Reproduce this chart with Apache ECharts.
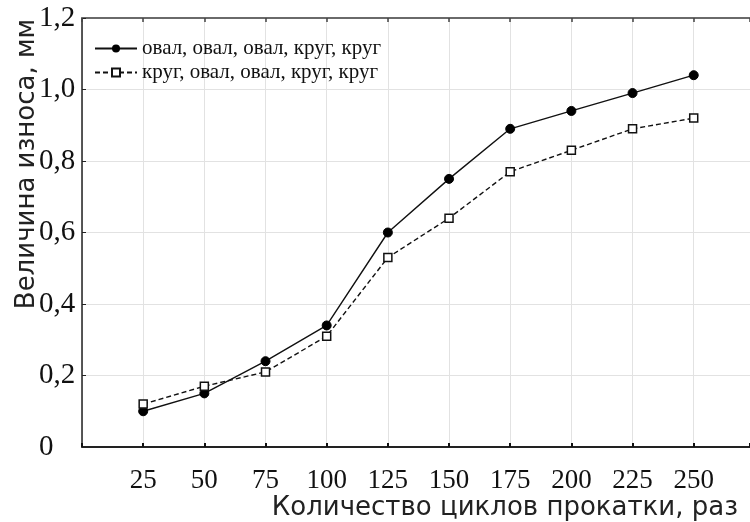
<meta charset="UTF-8">
<script src="https://cdn.jsdelivr.net/npm/echarts@6/dist/echarts.min.js"></script>
<style>body { margin: 0; }</style>
<div id="main" style="width: 750px; height: 522px;"></div>
<script>
    // циклы прокатки
    var cycles = [25, 50, 75, 100, 125, 150, 175, 200, 225, 250];
    var wearOval = [0.10, 0.15, 0.24, 0.34, 0.60, 0.75, 0.89, 0.94, 0.99, 1.04];
    var wearRound = [0.12, 0.17, 0.21, 0.31, 0.53, 0.64, 0.77, 0.83, 0.89, 0.92];
    var seriesNames = ['овал, овал, овал, круг, круг', 'круг, овал, овал, круг, круг'];
    var yTicks = [0, 0.2, 0.4, 0.6, 0.8, 1.0, 1.2];

    function pairs(vals) {
        var out = [];
        for (var i = 0; i < cycles.length; i++) {
            out.push([cycles[i], vals[i]]);
        }
        return out;
    }

    var mychart = echarts.init(document.getElementById('main'));
    var serif = '"Liberation Serif", "DejaVu Serif", serif';
    var sans = '"DejaVu Sans", "Open Sans", sans-serif';

    option = {
        animation: false,
        backgroundColor: '#fff',
        grid: {
            left: 82,
            right: 0,
            top: 18,
            bottom: 75,
            outerBoundsMode: 'none',
            containLabel: false
        },
        legend: {
            left: 89,
            top: 33,
            orient: 'vertical',
            itemWidth: 42,
            itemHeight: 10,
            itemGap: 3,
            textStyle: {
                fontFamily: serif,
                fontSize: 21,
                color: '#111'
            },
            data: seriesNames
        },
        xAxis: [
            {
                type: 'value',
                min: 0,
                max: 273,
                interval: 25,
                axisLine: {lineStyle: {color: '#222', width: 2}},
                axisTick: {inside: true, length: 4, lineStyle: {color: '#111', width: 2}},
                axisLabel: {
                    margin: 20,
                    fontFamily: serif,
                    fontSize: 27,
                    color: '#111',
                    formatter: function (v) {
                        return (v > 0 && v <= 250 && v % 25 === 0) ? String(v) : '';
                    }
                },
                splitLine: {lineStyle: {color: '#e2e2e2', width: 1}}
            },
            {
                type: 'value',
                position: 'top',
                min: 0,
                max: 273,
                interval: 25,
                axisLine: {show: true, lineStyle: {color: '#6a6a6a', width: 2}},
                axisTick: {show: true, inside: true, length: 4, lineStyle: {color: '#444', width: 1.5}},
                axisLabel: {show: false},
                splitLine: {show: false}
            }
        ],
        yAxis: {
            type: 'value',
            min: 0,
            max: 1.2,
            interval: 0.2,
            axisLine: {show: true, lineStyle: {color: '#222', width: 1.5}},
            axisTick: {show: true, inside: true, length: 4, lineStyle: {color: '#222'}},
            axisLabel: {
                align: 'left',
                margin: 43,
                fontFamily: serif,
                fontSize: 29,
                color: '#111',
                formatter: function (v) {
                    var t = yTicks.filter(function (y) { return Math.abs(y - v) < 1e-6; });
                    if (!t.length) return '';
                    return v === 0 ? '0' : v.toFixed(1).replace('.', ',');
                }
            },
            splitLine: {lineStyle: {color: '#e2e2e2', width: 1}}
        },
        graphic: [
            {
                type: 'text',
                x: 27,
                y: 164,
                rotation: Math.PI / 2,
                style: {
                    text: 'Величина износа, мм',
                    fontFamily: sans,
                    fontSize: 26,
                    fill: '#222',
                    textAlign: 'center',
                    textVerticalAlign: 'middle'
                }
            },
            {
                type: 'text',
                x: 738,
                y: 508,
                style: {
                    text: 'Количество циклов прокатки, раз',
                    fontFamily: sans,
                    fontSize: 26,
                    fill: '#222',
                    textAlign: 'right',
                    textVerticalAlign: 'middle'
                }
            }
        ],
        series: [
            {
                name: seriesNames[0],
                type: 'line',
                data: pairs(wearOval),
                symbol: 'circle',
                symbolSize: 9,
                lineStyle: {color: '#111', width: 1.4, type: 'solid'},
                itemStyle: {color: '#000', borderColor: '#000'}
            },
            {
                name: seriesNames[1],
                type: 'line',
                data: pairs(wearRound),
                symbol: 'rect',
                symbolSize: 8,
                lineStyle: {color: '#111', width: 1.4, type: [5, 3]},
                itemStyle: {color: '#fff', borderColor: '#111', borderWidth: 1.5}
            }
        ]
    };
    mychart.setOption(option);
</script>
